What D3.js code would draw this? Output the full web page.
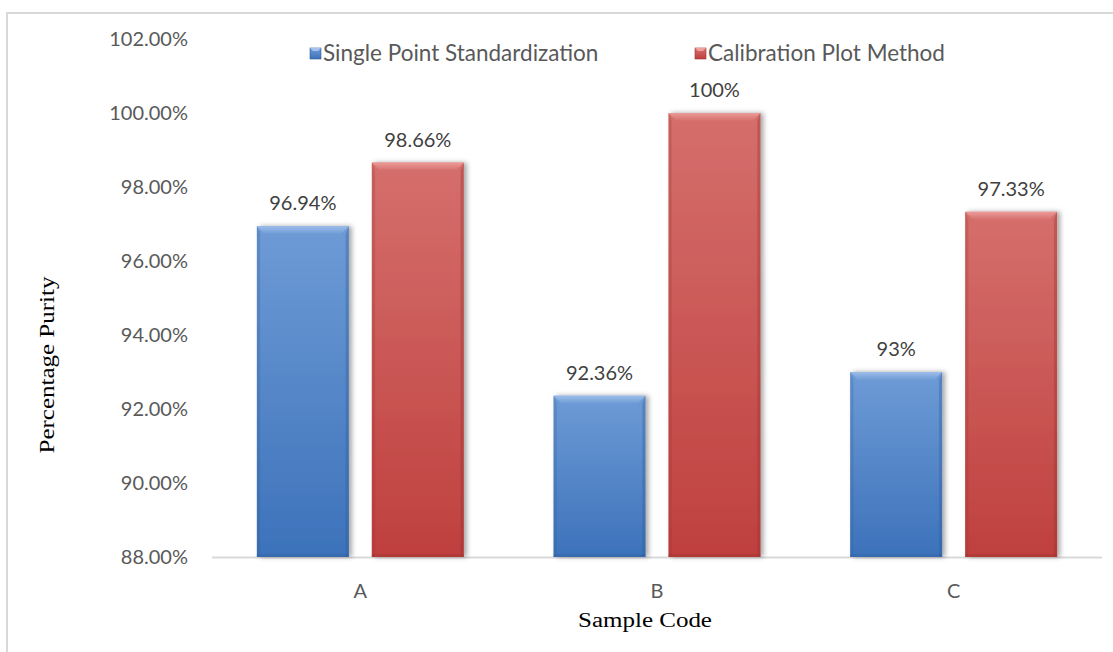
<!DOCTYPE html>
<html>
<head>
<meta charset="utf-8">
<script src="https://cdn.jsdelivr.net/npm/d3@7"></script>
<style>
  html, body { margin: 0; padding: 0; background: #fff; }
  svg { display: block; }
</style>
</head>
<body>
<svg id="chart" width="1113" height="652"></svg>
<script>
// Sample codes and purity values (percent) for the two methods
const categories = ["A", "B", "C"];
const seriesNames = ["Single Point Standardization", "Calibration Plot Method"];
const singlePoint = [96.94, 92.36, 93.00];
const calibration = [98.66, 100.00, 97.33];
const valueLabels = [["96.94%", "92.36%", "93%"], ["98.66%", "100%", "97.33%"]];
const yTicks = [88, 90, 92, 94, 96, 98, 100, 102];

const svg = d3.select("#chart");
const W = 1113, H = 652;
const sans = "Lato, 'Open Sans', sans-serif";
const serif = "'Liberation Serif', 'DejaVu Serif', serif";

// outer frame (right and bottom edges fall outside the view)
svg.append("rect").attr("x", 7).attr("y", 13).attr("width", W).attr("height", H)
  .attr("fill", "#fff").attr("stroke", "#d9d9d9").attr("stroke-width", 2);

const plot = { left: 212, right: 1102, top: 39, bottom: 557 };

const y = d3.scaleLinear().domain([88, 102]).range([plot.bottom, plot.top]);
const x0 = d3.scaleBand().domain(categories).range([plot.left, plot.right]).paddingInner(0).paddingOuter(0);
const bw = x0.bandwidth();
const barW = bw * 0.31;
const innerGap = barW * 0.25;
const groupOffset = (bw - (2 * barW + innerGap)) / 2;

const defs = svg.append("defs");
const palettes = [
  { id: "gBlue", top: "#6e9bd6", bottom: "#3c72ba", bevel: "#a3c1ec", edge: "#2f5c98" },
  { id: "gRed", top: "#d56f6c", bottom: "#bf403e", bevel: "#eea09d", edge: "#943230" }
];
palettes.forEach(p => {
  const g = defs.append("linearGradient").attr("id", p.id).attr("x1", 0).attr("y1", 0).attr("x2", 0).attr("y2", 1);
  g.append("stop").attr("offset", "0%").attr("stop-color", p.top);
  g.append("stop").attr("offset", "100%").attr("stop-color", p.bottom);
  const b = defs.append("linearGradient").attr("id", p.id + "Bevel").attr("x1", 0).attr("y1", 0).attr("x2", 0).attr("y2", 1);
  b.append("stop").attr("offset", "0%").attr("stop-color", p.bevel);
  b.append("stop").attr("offset", "100%").attr("stop-color", p.top);
});
const shadow = defs.append("filter").attr("id", "shadow").attr("x", "-20%").attr("y", "-10%").attr("width", "140%").attr("height", "120%");
shadow.append("feDropShadow").attr("dx", 3).attr("dy", 0).attr("stdDeviation", 2.5)
  .attr("flood-color", "#000").attr("flood-opacity", 0.35);

// value axis labels
svg.append("g").selectAll("text").data(yTicks).join("text")
  .attr("x", 188).attr("y", d => y(d)).attr("dy", "0.35em")
  .attr("text-anchor", "end")
  .attr("font-family", sans).attr("font-size", 20).attr("fill", "#595959")
  .text(d => d.toFixed(2) + "%");

// category axis line
svg.append("line").attr("x1", plot.left).attr("x2", plot.right)
  .attr("y1", plot.bottom + 0.5).attr("y2", plot.bottom + 0.5)
  .attr("stroke", "#d9d9d9").attr("stroke-width", 2);

// bars
const allSeries = [singlePoint, calibration];
allSeries.forEach((vals, si) => {
  const p = palettes[si];
  const g = svg.append("g");
  vals.forEach((v, ci) => {
    const bx = x0(categories[ci]) + groupOffset + si * (barW + innerGap);
    const by = y(v);
    const bh = y(88) - by;
    const bar = g.append("g");
    bar.append("rect").attr("x", bx).attr("y", by).attr("width", barW).attr("height", bh)
      .attr("fill", `url(#${p.id})`).attr("filter", "url(#shadow)");
    // bevel along the top edge
    const bv = 8;
    bar.append("path")
      .attr("d", `M${bx},${by} L${bx + barW},${by} L${bx + barW - bv},${by + bv} L${bx + bv},${by + bv} Z`)
      .attr("fill", `url(#${p.id}Bevel)`).attr("opacity", 0.9);
    // darker left/right edges
    bar.append("path")
      .attr("d", `M${bx},${by} L${bx + bv * 0.4},${by + bv} L${bx + bv * 0.4},${by + bh} L${bx},${by + bh} Z`)
      .attr("fill", p.edge).attr("opacity", 0.25);
    bar.append("path")
      .attr("d", `M${bx + barW},${by} L${bx + barW - bv * 0.4},${by + bv} L${bx + barW - bv * 0.4},${by + bh} L${bx + barW},${by + bh} Z`)
      .attr("fill", p.edge).attr("opacity", 0.35);
    bar.append("rect").attr("x", bx).attr("y", by + bh - 3).attr("width", barW).attr("height", 3)
      .attr("fill", p.edge).attr("opacity", 0.3);
    // value label
    svg.append("text")
      .attr("x", bx + barW / 2).attr("y", by - 16)
      .attr("text-anchor", "middle")
      .attr("font-family", sans).attr("font-size", 20).attr("fill", "#404040")
      .text(valueLabels[si][ci]);
  });
});

// category labels
svg.append("g").selectAll("text").data(categories).join("text")
  .attr("x", d => x0(d) + bw / 2).attr("y", 598)
  .attr("text-anchor", "middle")
  .attr("font-family", sans).attr("font-size", 20).attr("fill", "#595959")
  .text(d => d);

// axis titles (horizontally widened serif)
svg.append("text").attr("transform", "translate(645,627) scale(1.25,1)").attr("text-anchor", "middle")
  .attr("font-family", serif).attr("font-size", 20).attr("fill", "#000")
  .text("Sample Code");
svg.append("text").attr("transform", "translate(54,365) rotate(-90) scale(1.25,1)").attr("text-anchor", "middle")
  .attr("font-family", serif).attr("font-size", 20).attr("fill", "#000")
  .text("Percentage Purity");

// legend
const legendX = [310, 695];
seriesNames.forEach((name, i) => {
  const p = palettes[i];
  const lg = svg.append("g").attr("transform", `translate(${legendX[i]},48)`);
  lg.append("rect").attr("x", 0).attr("y", 0).attr("width", 11).attr("height", 11)
    .attr("fill", `url(#${p.id})`).attr("stroke", p.edge).attr("stroke-width", 0.6);
  lg.append("path").attr("d", "M0,0 L11,0 L8,3 L3,3 Z").attr("fill", p.bevel);
  lg.append("text").attr("x", 13).attr("y", 5.5).attr("dy", "0.35em")
    .attr("font-family", sans).attr("font-size", 22.5).attr("fill", "#595959")
    .text(name);
});
</script>
</body>
</html>
